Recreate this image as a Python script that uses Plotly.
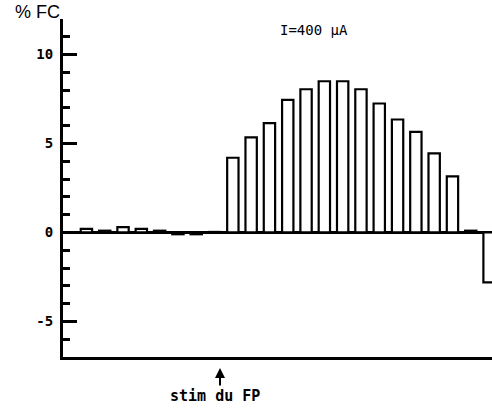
import plotly.graph_objects as go

# Data
stim_index = list(range(23))
fc_percent = [0.2, 0.1, 0.3, 0.2, 0.1, -0.1, -0.1, 0.03,
              4.2, 5.35, 6.15, 7.45, 8.05, 8.5, 8.5, 8.05, 7.25, 6.35, 5.65, 4.45, 3.15,
              0.1, -2.8]
y_tick_vals = [-5, 0, 5, 10]
y_tick_text = ["-5", "0", "5", "10"]

W, H = 492, 410
L, T, B = 63, 19, 53

fig = go.Figure()
fig.add_trace(go.Bar(
    x=stim_index, y=fc_percent, width=0.62,
    marker=dict(color="white", line=dict(color="black", width=2.2)),
    hoverinfo="skip",
))

def px_x(p):
    return (p - L) / (W - L)

def px_y(p):
    return (H - B - p) / (H - B - T)

fig.update_layout(
    width=W, height=H,
    margin=dict(l=L, r=0, t=T, b=B, pad=0),
    plot_bgcolor="white", paper_bgcolor="white",
    showlegend=False,
    xaxis=dict(range=[-1.28, 22.16], showgrid=False, zeroline=False,
               showticklabels=False, ticks="", showline=True,
               linecolor="black", linewidth=3),
    yaxis=dict(range=[-7, 12], showgrid=False,
               zeroline=True, zerolinecolor="black", zerolinewidth=2.5,
               showline=True, linecolor="black", linewidth=3,
               tickmode="array", tickvals=y_tick_vals,
               ticktext=["<b>%s</b>" % t for t in y_tick_text],
               ticks="inside", ticklen=14, tickwidth=2.5, tickcolor="black",
               ticklabelstandoff=4,
               tickfont=dict(family="DejaVu Sans Mono", size=14, color="black"),
               minor=dict(dtick=1, tick0=0, ticks="inside", ticklen=7,
                          tickwidth=2.5, tickcolor="black")),
    annotations=[
        dict(text="% FC", xref="paper", yref="paper",
             x=px_x(62), y=px_y(12), xanchor="right", yanchor="middle",
             showarrow=False,
             font=dict(family="Liberation Sans", size=18, color="black")),
        dict(text="I=400 µA", xref="paper", yref="paper",
             x=px_x(350), y=px_y(30), xanchor="right", yanchor="middle",
             showarrow=False,
             font=dict(family="DejaVu Sans Mono", size=14, color="black")),
        dict(text="<b>stim du FP</b>", xref="paper", yref="paper",
             x=px_x(215), y=px_y(396), xanchor="center", yanchor="middle",
             showarrow=False,
             font=dict(family="DejaVu Sans Mono", size=15, color="black")),
        dict(text="", xref="paper", yref="paper",
             x=px_x(220), y=px_y(368), ax=0, ay=19,
             showarrow=True, arrowhead=2, arrowsize=1, arrowwidth=2,
             arrowcolor="black"),
    ],
)

fig.write_html("out.html", config={"displayModeBar": False},
               post_script="document.body.style.margin='0';document.body.style.overflow='hidden';")
